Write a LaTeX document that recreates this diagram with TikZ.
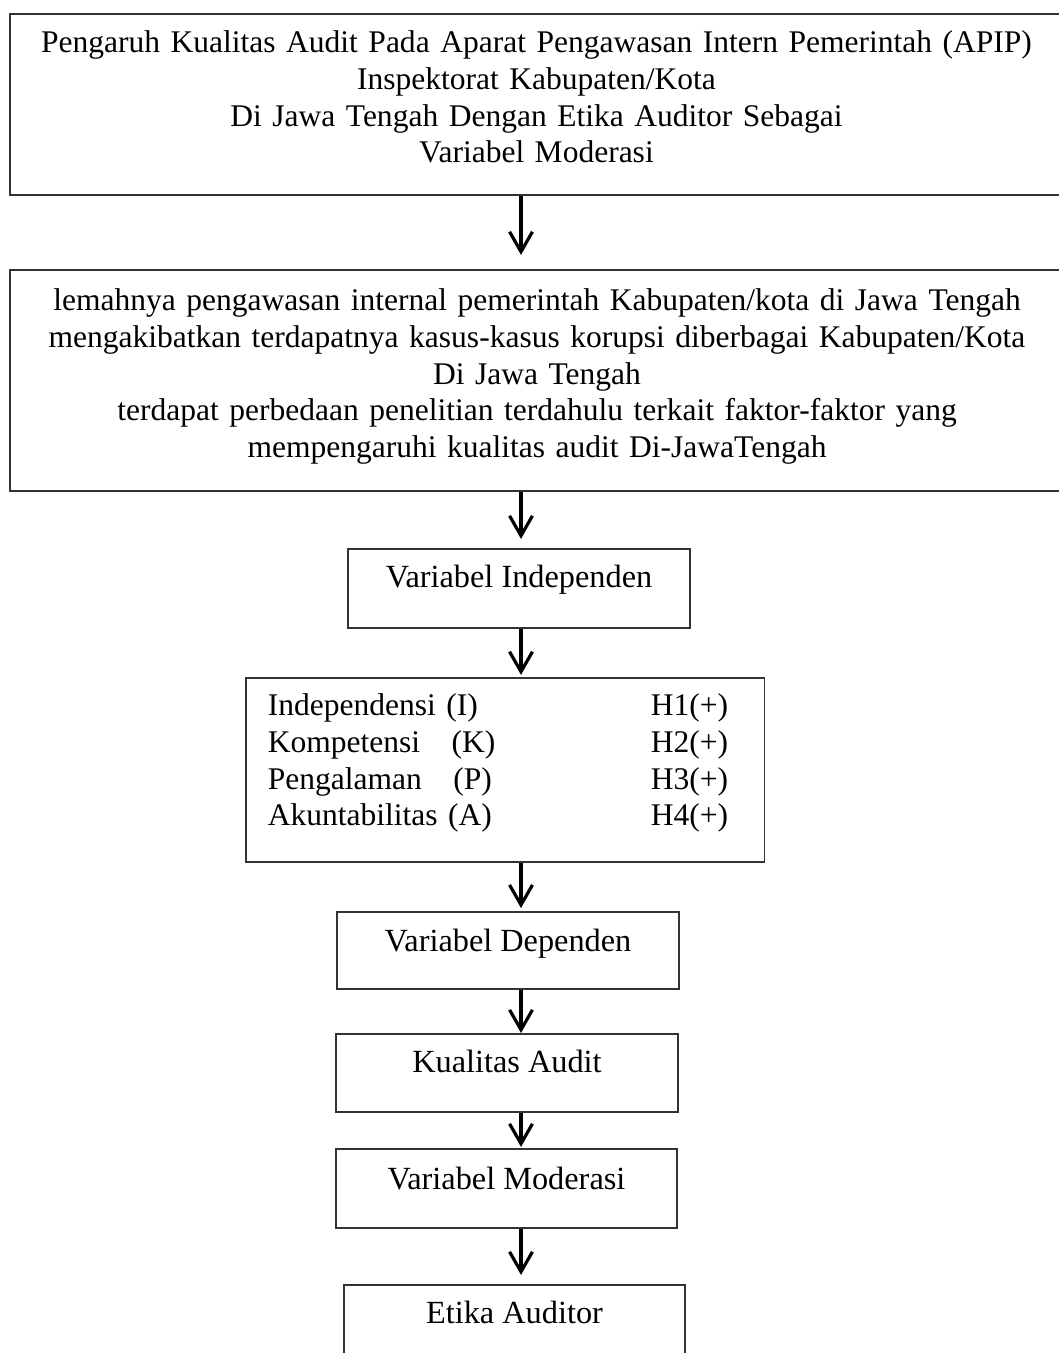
\documentclass[tikz,border=0pt]{standalone}
\usepackage{fontspec}
\setmainfont{Liberation Serif}
\usetikzlibrary{arrows.meta}

\begin{document}
\begin{tikzpicture}[x=0.376pt, y=-0.376pt,
		font=\fontsize{11.85pt}{13.8pt}\selectfont,
		box/.style={draw=black!80, line width=0.6pt, inner sep=0pt, anchor=north},
		lone/.style={box, font=\fontsize{12.15pt}{13.8pt}\selectfont},
		arr/.style={line width=1.2pt, -{Straight Barb[length=7.5pt, width=8.6pt]}}]
		\useasboundingbox (0,0) rectangle (1059,1353);
		\coordinate (ax) at (521,0);
		\node [box, minimum width=395.9pt, text width=395.9pt, align=center, text height=14.66pt, text depth=53.39pt] at (536.5,13) (b1) {Pengaruh Kualitas Audit Pada Aparat Pengawasan Intern Pemerintah (APIP)\\ Inspektorat Kabupaten/Kota\\ Di Jawa Tengah Dengan Etika Auditor Sebagai\\ Variabel Moderasi};
		\node [box, minimum width=396.3pt, text width=396.3pt, align=center, text height=15.42pt, text depth=67.68pt] at (537,269) (b2) {lemahnya pengawasan internal pemerintah Kabupaten/kota di Jawa Tengah\\ mengakibatkan terdapatnya kasus-kasus korupsi diberbagai Kabupaten/Kota\\ Di Jawa Tengah\\ terdapat perbedaan penelitian terdahulu terkait faktor-faktor yang\\ mempengaruhi kualitas audit Di-JawaTengah};
		\node [lone, minimum width=128.6pt, text height=14.66pt, text depth=15.04pt] at (519,548) (b3) {Variabel Independen};
		\node [box, anchor=north west, inner xsep=8.27pt, text width=178.5pt, align=left, text height=14.29pt, text depth=54.9pt] at (245,677) (b4) {\makebox[144pt][l]{Independensi (I)}H1(+)\\ \makebox[144pt][l]{Kompetensi\ \ \ (K)}H2(+)\\ \makebox[144pt][l]{Pengalaman\ \ \ (P)}H3(+)\\ \makebox[144pt][l]{Akuntabilitas (A)}H4(+)};
		\node [lone, minimum width=128.6pt, text height=15.04pt, text depth=13.91pt] at (508,911) (b5) {Variabel Dependen};
		\node [lone, minimum width=128.6pt, text height=14.66pt, text depth=14.66pt] at (507,1033) (b6) {Kualitas Audit};
		\node [lone, minimum width=128.2pt, text height=15.42pt, text depth=14.29pt] at (506.5,1148) (b7) {Variabel Moderasi};
		\node [lone, minimum width=128.2pt, text height=14.66pt, text depth=17.67pt] at (514.5,1284) (b8) {Etika Auditor};

		\foreach \a/\b/\g in {b1/b2/5.3, b2/b3/3.4, b3/b4/0.8, b4/b5/1.1, b5/b6/0, b6/b7/0.4, b7/b8/3.4}
			\draw [arr, shorten >=\g pt] (\a.south -| ax) -- (\b.north -| ax);
	\end{tikzpicture}
\end{document}
